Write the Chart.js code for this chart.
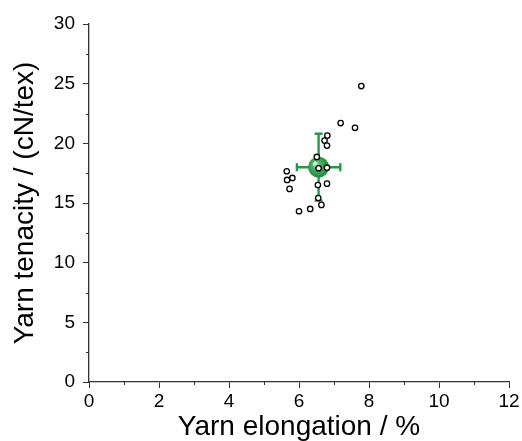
<!DOCTYPE html>
<html>
<head>
<meta charset="utf-8">
<script src="https://cdn.jsdelivr.net/npm/chart.js@4/dist/chart.umd.min.js"></script>
<style>
html,body{margin:0;padding:0;background:#fff;}
#wrap{width:522px;height:441px;position:relative;}
</style>
</head>
<body>
<div id="wrap"><canvas id="c" width="522" height="441"></canvas></div>
<script>
// Individual yarn samples: elongation (%) and tenacity (cN/tex)
const elongation = [7.78, 7.19, 7.60, 6.81, 6.73, 6.80, 6.51, 6.56, 6.80, 5.65, 5.81, 5.66, 5.73, 6.54, 6.80, 6.55, 6.64, 6.32, 6.00];
const tenacity   = [24.8, 21.7, 21.3, 20.65, 20.23, 19.81, 18.86, 17.91, 17.96, 17.66, 17.1, 16.93, 16.18, 16.51, 16.62, 15.42, 14.84, 14.5, 14.31];
// Mean with standard deviations
const meanElongation = [6.56];
const meanTenacity = [18.0];
const sdElongation = [0.62];
const sdTenacity = [2.8];
// Axis tick settings
const xTicks = [0, 2, 4, 6, 8, 10, 12];
const yTicks = [0, 5, 10, 15, 20, 25, 30];

const GREEN = 'rgb(38,152,72)';
const FONT = "'Liberation Sans', Arial, sans-serif";

const pts = elongation.map((v, i) => ({x: v, y: tenacity[i]}));
const meanPts = meanElongation.map((v, i) => ({x: v, y: meanTenacity[i]}));

const minorTicks = {
  id: 'minorTicks',
  afterDraw(chart) {
    const ctx = chart.ctx, xs = chart.scales.x, ys = chart.scales.y;
    ctx.save();
    ctx.strokeStyle = '#333';
    ctx.lineWidth = 1;
    for (let i = 0; i < xTicks.length - 1; i++) {
      const v = (xTicks[i] + xTicks[i + 1]) / 2;
      const px = Math.round(xs.getPixelForValue(v)) + 0.5;
      ctx.beginPath(); ctx.moveTo(px, ys.bottom); ctx.lineTo(px, ys.bottom + 3); ctx.stroke();
    }
    for (let i = 0; i < yTicks.length - 1; i++) {
      const v = (yTicks[i] + yTicks[i + 1]) / 2;
      const py = Math.round(ys.getPixelForValue(v)) + 0.5;
      ctx.beginPath(); ctx.moveTo(xs.left, py); ctx.lineTo(xs.left - 3, py); ctx.stroke();
    }
    ctx.restore();
  }
};

const errorBars = {
  id: 'errorBars',
  beforeDatasetsDraw(chart) {
    const ctx = chart.ctx, xs = chart.scales.x, ys = chart.scales.y;
    ctx.save();
    ctx.strokeStyle = GREEN;
    ctx.lineWidth = 2.4;
    const cap = 4;
    meanElongation.forEach((mx, i) => {
      const my = meanTenacity[i];
      const cx = xs.getPixelForValue(mx), cy = ys.getPixelForValue(my);
      const y1 = ys.getPixelForValue(my + sdTenacity[i]);
      const y2 = ys.getPixelForValue(my - sdTenacity[i]);
      const x1 = xs.getPixelForValue(mx - sdElongation[i]);
      const x2 = xs.getPixelForValue(mx + sdElongation[i]);
      ctx.beginPath();
      ctx.moveTo(cx, y1); ctx.lineTo(cx, y2);
      ctx.moveTo(cx - cap, y1); ctx.lineTo(cx + cap, y1);
      ctx.moveTo(cx - cap, y2); ctx.lineTo(cx + cap, y2);
      ctx.moveTo(x1, cy); ctx.lineTo(x2, cy);
      ctx.moveTo(x1, cy - cap); ctx.lineTo(x1, cy + cap);
      ctx.moveTo(x2, cy - cap); ctx.lineTo(x2, cy + cap);
      ctx.stroke();
    });
    ctx.restore();
  }
};

function meanFill(context) {
  const chart = context.chart;
  if (!chart.chartArea || !chart.scales.x) return GREEN;
  const i = context.dataIndex || 0;
  const cx = chart.scales.x.getPixelForValue(meanElongation[i]);
  const cy = chart.scales.y.getPixelForValue(meanTenacity[i]);
  const g = chart.ctx.createRadialGradient(cx - 4, cy - 4, 0.5, cx, cy, 11);
  g.addColorStop(0, 'rgb(235,248,238)');
  g.addColorStop(0.3, 'rgb(85,180,110)');
  g.addColorStop(1, 'rgb(28,138,58)');
  return g;
}

new Chart(document.getElementById('c'), {
  type: 'scatter',
  data: {
    datasets: [
      {
        label: 'samples',
        data: pts,
        order: 0,
        pointRadius: 2.7,
        pointHoverRadius: 2.7,
        pointBorderWidth: 1.3,
        pointBorderColor: '#000',
        pointBackgroundColor: '#fff'
      },
      {
        label: 'mean',
        data: meanPts,
        order: 1,
        pointRadius: 10.5,
        pointHoverRadius: 10.5,
        pointBorderWidth: 0,
        pointBorderColor: GREEN,
        pointBackgroundColor: meanFill
      }
    ]
  },
  options: {
    responsive: false,
    animation: false,
    events: [],
    layout: { padding: { left: 0, right: 13, top: 24, bottom: 0 } },
    plugins: { legend: { display: false }, tooltip: { enabled: false } },
    scales: {
      x: {
        type: 'linear', min: 0, max: 12,
        afterBuildTicks(s) { s.ticks = xTicks.map(v => ({value: v})); },
        afterFit(s) { s.height = 441 - 382; },
        grid: { display: true, drawOnChartArea: false, drawTicks: true, tickLength: 6, color: '#333', tickColor: '#333' },
        border: { display: true, color: '#333', width: 1.3 },
        ticks: { color: '#000', font: { family: FONT, size: 19 }, padding: 2, maxRotation: 0, autoSkip: false },
        title: { display: true, text: 'Yarn elongation / %', color: '#000', font: { family: FONT, size: 28 }, padding: { top: 0, bottom: -3 } }
      },
      y: {
        type: 'linear', min: 0, max: 30,
        afterBuildTicks(s) { s.ticks = yTicks.map(v => ({value: v})); },
        afterFit(s) { s.width = 89; },
        grid: { display: true, drawOnChartArea: false, drawTicks: true, tickLength: 6, color: '#333', tickColor: '#333' },
        border: { display: true, color: '#333', width: 1.3 },
        ticks: { color: '#000', font: { family: FONT, size: 19 }, padding: 8, autoSkip: false },
        title: { display: true, text: 'Yarn tenacity / (cN/tex)', color: '#000', font: { family: FONT, size: 28 }, padding: { top: 8, bottom: 0 } }
      }
    }
  },
  plugins: [errorBars, minorTicks]
});
</script>
</body>
</html>
